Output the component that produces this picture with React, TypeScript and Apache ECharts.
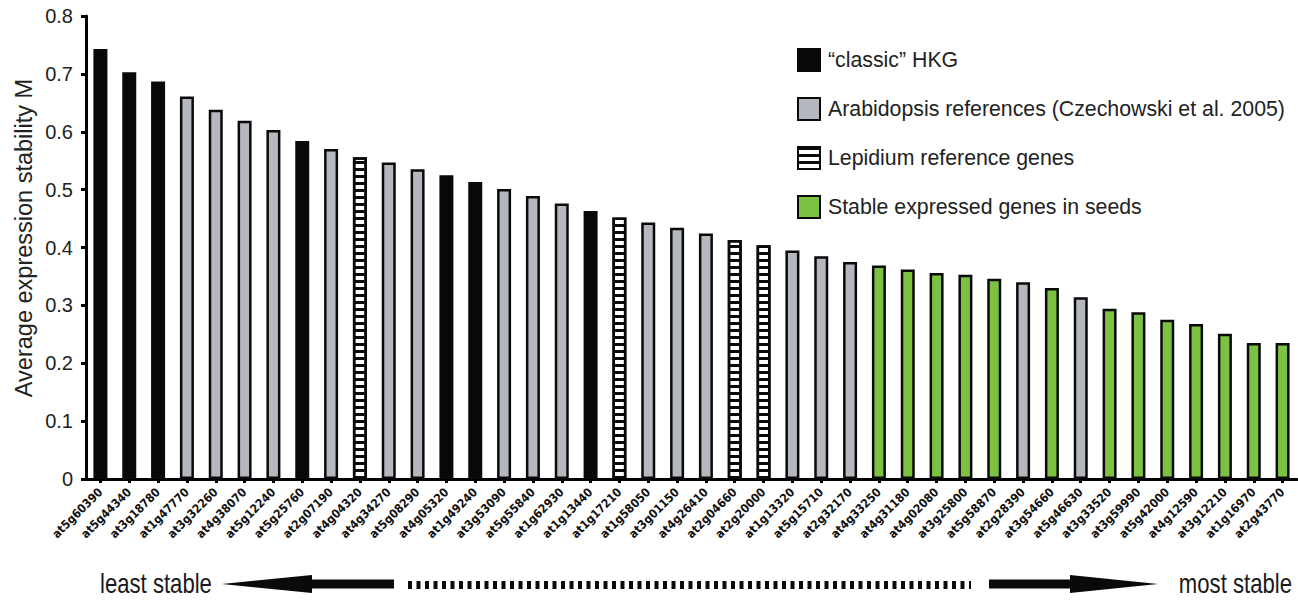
import React, { useEffect, useRef } from "react";
import * as echarts from "echarts";

// Genes ordered from least to most stable
const genes = [
  "at5g60390", "at5g44340", "at3g18780", "at1g47770", "at3g32260", "at4g38070",
  "at5g12240", "at5g25760", "at2g07190", "at4g04320", "at4g34270", "at5g08290",
  "at4g05320", "at1g49240", "at3g53090", "at5g55840", "at1g62930", "at1g13440",
  "at1g17210", "at1g58050", "at3g01150", "at4g26410", "at2g04660", "at2g20000",
  "at1g13320", "at5g15710", "at2g32170", "at4g33250", "at4g31180", "at4g02080",
  "at3g25800", "at5g58870", "at2g28390", "at3g54660", "at5g46630", "at3g33520",
  "at3g59990", "at5g42000", "at4g12590", "at3g12210", "at1g16970", "at2g43770",
];

// Average expression stability M per gene
const stability = [
  0.743, 0.703, 0.687, 0.661, 0.638, 0.619, 0.603, 0.584, 0.57, 0.556, 0.547, 0.535,
  0.525, 0.513, 0.501, 0.489, 0.476, 0.463, 0.452, 0.443, 0.434, 0.424, 0.413, 0.404,
  0.395, 0.385, 0.375, 0.369, 0.362, 0.356, 0.353, 0.346, 0.34, 0.33, 0.314, 0.294,
  0.288, 0.275, 0.268, 0.251, 0.235, 0.235,
];

// Group of each gene: H = classic HKG, A = Arabidopsis reference,
// L = Lepidium reference, S = stable in seeds
const groups = [
  "H", "H", "H", "A", "A", "A", "A", "H", "A", "L", "A", "A",
  "H", "H", "A", "A", "A", "H", "L", "A", "A", "A", "L", "L",
  "A", "A", "A", "S", "S", "S", "S", "S", "A", "S", "A", "S",
  "S", "S", "S", "S", "S", "S",
];

const groupKeys = ["H", "A", "L", "S"];
const groupNames = [
  "\u201cclassic\u201d HKG",
  "Arabidopsis references (Czechowski et al. 2005)",
  "Lepidium reference genes",
  "Stable expressed genes in seeds",
];

const yTicks = [0, 0.1, 0.2, 0.3, 0.4, 0.5, 0.6, 0.7, 0.8];

const yTitle = "Average expression stability M";
const leftCaption = "least stable";
const rightCaption = "most stable";

const FONT = "'Liberation Sans', Arial, Helvetica, sans-serif";
const CONDENSED = "'DejaVu Sans Condensed', 'Liberation Sans', Arial, sans-serif";

const fills: Record<string, string> = {
  H: "#080808",
  A: "#b4b7bd",
  L: "#ffffff",
  S: "#7dc142",
};

function buildOption(): echarts.EChartsOption {
  const series = groupKeys.map((key, gi) => {
    const itemStyle: any = {
      color: fills[key],
      borderColor: "#0a0a0a",
      borderWidth: 2.5,
    };
    if (key === "L") {
      // horizontal black stripes on a white bar
      itemStyle.decal = {
        symbol: "rect",
        symbolSize: 1,
        dashArrayX: [1, 0],
        dashArrayY: [2.6, 3.6],
        color: "#0a0a0a",
        rotation: 0,
      };
    }
    return {
      type: "bar" as const,
      name: groupNames[gi],
      barWidth: 14,
      barGap: "-100%",
      itemStyle,
      data: stability.map((v, i) => (groups[i] === key ? v : "-")),
    };
  });

  const arrowY = 584;

  return {
    animation: false,
    textStyle: { fontFamily: FONT },
    grid: { left: 86, right: 1, top: 16, bottom: 121, containLabel: false },
    legend: {
      orient: "vertical",
      left: 797,
      top: 48,
      padding: 0,
      itemWidth: 22,
      itemHeight: 22,
      itemGap: 25,
      icon: "rect",
      selectedMode: false,
      textStyle: { fontSize: 21.3, color: "#222", fontFamily: FONT, padding: [0, 0, 0, 3] },
      data: groupNames,
    },
    xAxis: {
      type: "category",
      data: genes,
      boundaryGap: true,
      axisLine: { show: true, lineStyle: { color: "#000", width: 3 } },
      axisTick: {
        show: true,
        alignWithLabel: true,
        length: 4,
        lineStyle: { color: "#000", width: 3 },
      },
      axisLabel: {
        interval: 0,
        rotate: 45,
        margin: 11,
        fontSize: 12,
        fontWeight: "bold",
        color: "#111",
        fontFamily: CONDENSED,
      },
      splitLine: { show: false },
    },
    yAxis: {
      type: "value",
      min: 0,
      max: 0.8,
      interval: 0.1,
      axisLine: { show: true, lineStyle: { color: "#000", width: 3 } },
      axisTick: { show: true, length: 5, lineStyle: { color: "#000", width: 3 } },
      axisLabel: {
        fontSize: 20,
        color: "#222",
        margin: 13,
        formatter: (v: number) => {
          const t = yTicks.find((x) => Math.abs(x - v) < 1e-6);
          return t === 0 ? "0" : (t ?? v).toFixed(1);
        },
      },
      splitLine: { show: false },
    },
    series,
    graphic: [
      {
        type: "text",
        x: 24,
        y: 238,
        rotation: Math.PI / 2,
        style: {
          text: yTitle,
          fontSize: 23.5,
          fontFamily: FONT,
          fill: "#222",
          align: "center",
          verticalAlign: "middle",
        },
      },
      {
        type: "text",
        x: 100,
        y: arrowY,
        scaleX: 0.82,
        style: {
          text: leftCaption,
          fontSize: 27,
          fontFamily: FONT,
          fill: "#1a1a1a",
          align: "left",
          verticalAlign: "middle",
        },
      },
      {
        type: "polygon",
        shape: {
          points: [
            [222, arrowY],
            [312, arrowY - 9],
            [312, arrowY - 4.5],
            [394, arrowY - 4.5],
            [394, arrowY + 4.5],
            [312, arrowY + 4.5],
            [312, arrowY + 9],
          ],
        },
        style: { fill: "#0a0a0a" },
      },
      {
        type: "line",
        shape: { x1: 408, y1: arrowY + 1, x2: 971, y2: arrowY + 1 },
        style: { stroke: "#0a0a0a", lineWidth: 8, lineDash: [4, 4.5] },
      },
      {
        type: "polygon",
        shape: {
          points: [
            [1158, arrowY],
            [1070, arrowY - 9],
            [1070, arrowY - 4.5],
            [989, arrowY - 4.5],
            [989, arrowY + 4.5],
            [1070, arrowY + 4.5],
            [1070, arrowY + 9],
          ],
        },
        style: { fill: "#0a0a0a" },
      },
      {
        type: "text",
        x: 1292,
        y: arrowY,
        scaleX: 0.82,
        style: {
          text: rightCaption,
          fontSize: 27,
          fontFamily: FONT,
          fill: "#1a1a1a",
          align: "right",
          verticalAlign: "middle",
        },
      },
    ],
  } as echarts.EChartsOption;
}

export default function App() {
  const ref = useRef<HTMLDivElement>(null);

  useEffect(() => {
    if (!ref.current) return;
    const chart = echarts.init(ref.current, undefined, { renderer: "svg" });
    chart.setOption(buildOption());
    return () => chart.dispose();
  }, []);

  return (
    <div
      ref={ref}
      style={{ position: "fixed", left: 0, top: 0, width: 1298, height: 600, background: "#fff" }}
    />
  );
}
